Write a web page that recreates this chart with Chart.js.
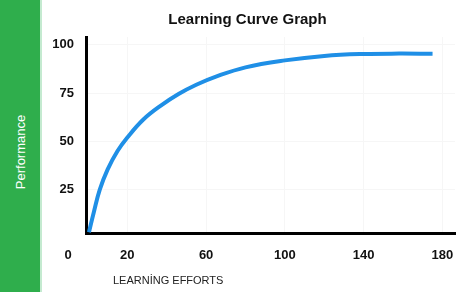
<!DOCTYPE html>
<html>
<head>
<meta charset="utf-8">
<script src="https://cdn.jsdelivr.net/npm/chart.js@4.4.0/dist/chart.umd.min.js"></script>
<style>
html, body { margin: 0; padding: 0; background: #fff; }
body { width: 458px; height: 292px; position: relative; overflow: hidden; font-family: "Liberation Sans", Arial, sans-serif; }
#bar { position: absolute; left: 0; top: 0; width: 40px; height: 292px; background: #2fae4c; border-right: 2px solid #c4ead0; }
#ylab { position: absolute; left: 20px; top: 152px; transform: translate(-50%, -50%) rotate(-90deg); color: #fff; font-size: 13px; white-space: nowrap; }
#c { position: absolute; left: 40px; top: 0; }
</style>
</head>
<body>
<div id="bar"><div id="ylab">Performance</div></div>
<canvas id="c" width="418" height="292"></canvas>
<script>
// -------- Data ----------
const effort      = [0.5, 3, 6, 10, 15, 20, 28, 37, 46, 55, 65, 80, 100, 120, 140, 158, 175];
const performance = [3, 13.5, 25, 35.5, 45, 52, 61.2, 68.5, 74.5, 79.3, 83.5, 88.3, 91.9, 94.2, 95.2, 95.4, 95.3];
const xTicks = [20, 60, 100, 140, 180];
const yTicks = [25, 50, 75, 100];
const originLabel = "0";
const xTitle = "LEARNİNG EFFORTS";
const chartTitle = "Learning Curve Graph";

const FONT = "'Liberation Sans', Arial, sans-serif";

// "0" at the corner + the x axis caption, placed off the chart area
const cornerText = {
  id: "cornerText",
  afterDraw(chart) {
    const { ctx, chartArea } = chart;
    ctx.save();
    ctx.fillStyle = "#111";
    ctx.font = `bold 13px ${FONT}`;
    ctx.textAlign = "center";
    ctx.textBaseline = "middle";
    ctx.fillText(originLabel, chartArea.left - 18, chartArea.bottom + 22);
    ctx.font = `11px ${FONT}`;
    ctx.textAlign = "left";
    ctx.fillStyle = "#222";
    ctx.fillText(xTitle, chartArea.left + 27, chartArea.bottom + 48);
    ctx.restore();
  }
};

const tickFont = { family: FONT, size: 13, weight: "bold" };

new Chart(document.getElementById("c"), {
  type: "line",
  data: {
    datasets: [{
      data: effort.map((x, i) => ({ x, y: performance[i] })),
      borderColor: "#1f8fe6",
      borderWidth: 4,
      pointRadius: 0,
      tension: 0.4,
      fill: false
    }]
  },
  options: {
    responsive: false,
    animation: false,
    devicePixelRatio: 1,
    layout: { padding: { left: 0, right: 3, top: 0, bottom: 0 } },
    plugins: {
      legend: { display: false },
      tooltip: { enabled: false },
      title: {
        display: true,
        text: chartTitle,
        color: "#111",
        font: { family: FONT, size: 15, weight: "bold" },
        padding: { top: 11, bottom: 8 }
      }
    },
    scales: {
      x: {
        type: "linear",
        min: -1,
        max: 186.4,
        afterBuildTicks: s => { s.ticks = xTicks.map(v => ({ value: v })); },
        afterFit: s => { s.height = 59; s.paddingLeft = 0; s.paddingRight = 0; },
        grid: { color: "#f6f6f6", drawTicks: false },
        border: { color: "#000", width: 3 },
        ticks: { padding: 15, color: "#111", font: tickFont, maxRotation: 0 }
      },
      y: {
        min: 2.6,
        max: 104,
        afterBuildTicks: s => { s.ticks = yTicks.map(v => ({ value: v })); },
        afterFit: s => { s.width = 46; s.paddingTop = 0; s.paddingBottom = 0; },
        grid: { color: "#f6f6f6", drawTicks: false },
        border: { color: "#000", width: 3 },
        ticks: { padding: 12, color: "#111", font: tickFont }
      }
    }
  },
  plugins: [cornerText]
});
</script>
</body>
</html>
